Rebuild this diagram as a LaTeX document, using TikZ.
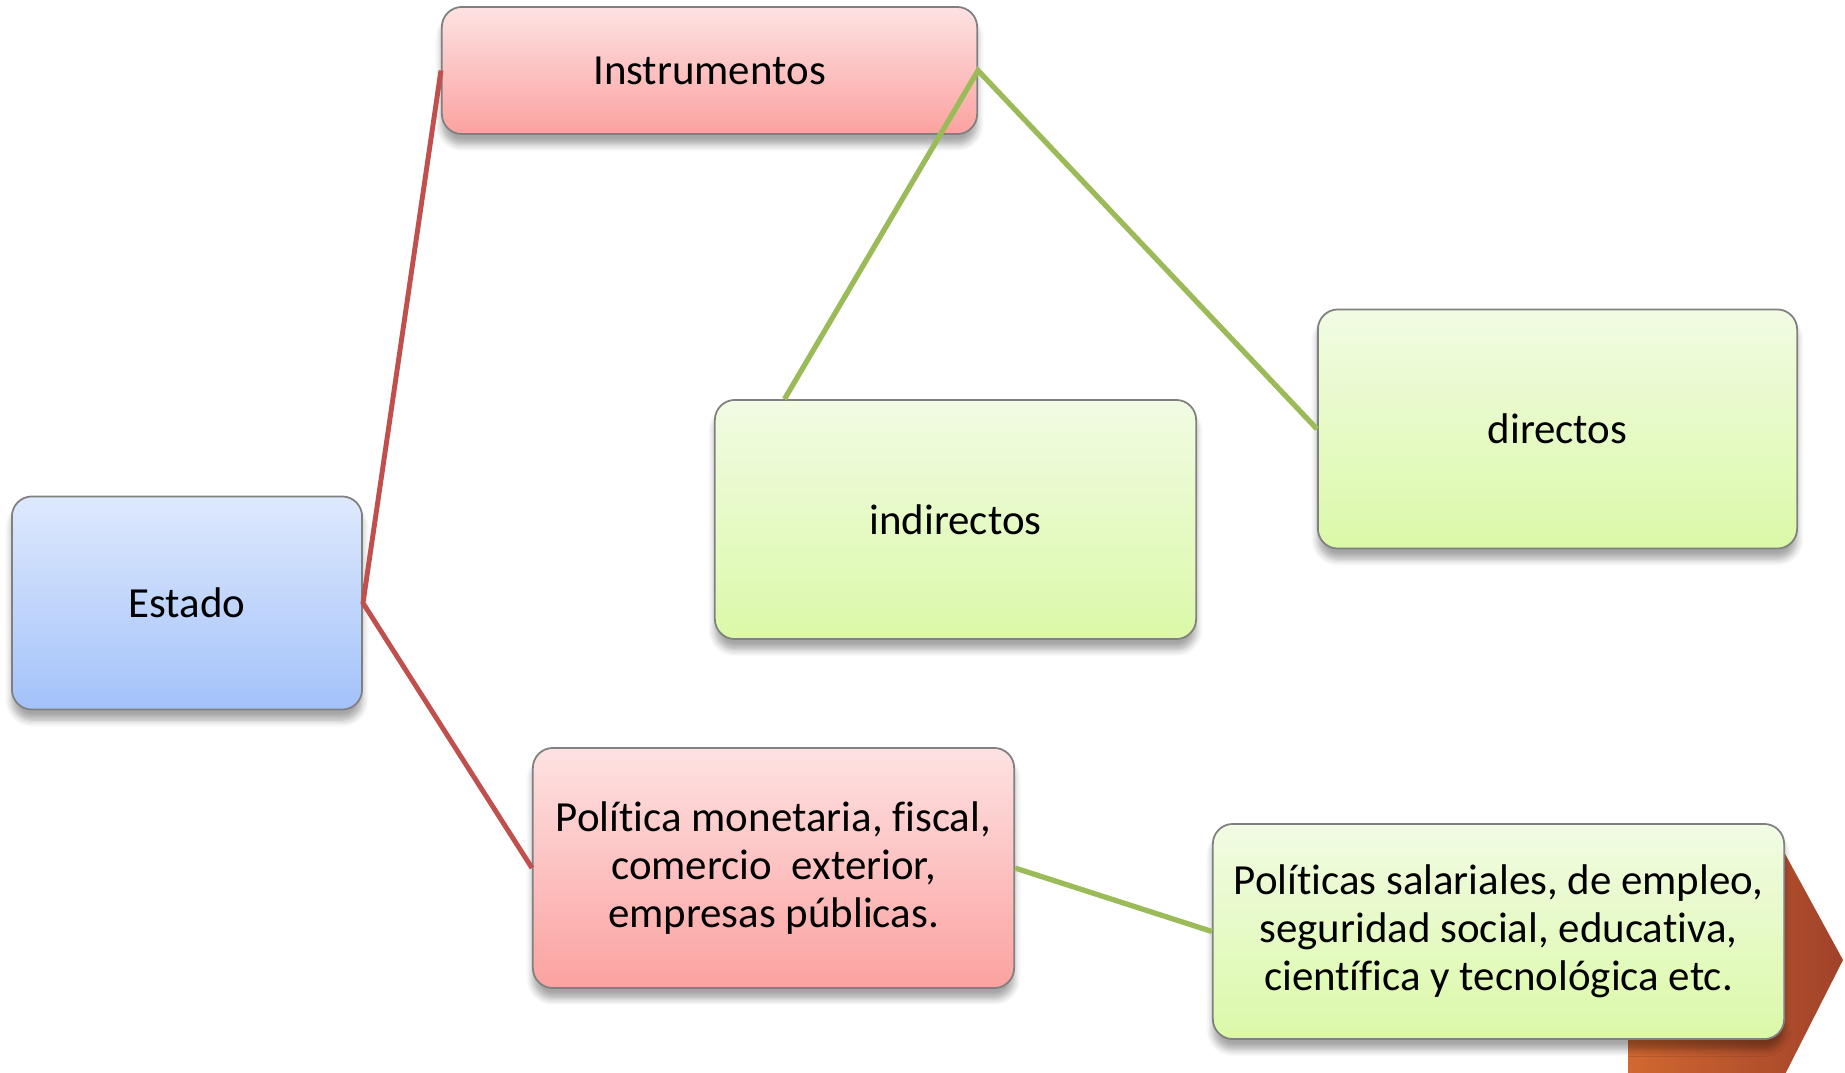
\documentclass[tikz,border=0pt]{standalone}
\usepackage{fontspec}
\setmainfont{Carlito}[Ligatures=NoCommon]
\usetikzlibrary{shadows.blur,calc}
\definecolor{estadotop}{RGB}{222,233,253}
\definecolor{estadobot}{RGB}{163,194,250}
\definecolor{redtop}{RGB}{253,226,226}
\definecolor{redbot}{RGB}{251,162,160}
\definecolor{greentop}{RGB}{241,251,227}
\definecolor{greenbot}{RGB}{219,249,168}
\definecolor{lineRed}{RGB}{192,80,77}
\definecolor{lineGreen}{RGB}{155,187,89}
\definecolor{chevLeft}{RGB}{210,104,48}
\definecolor{chevRight}{RGB}{160,66,42}

\begin{document}
\begin{tikzpicture}[
    x=0.01cm, y=-0.01cm,
    box/.style={rectangle, draw=black!50, line width=0.5pt, rounded corners=0.2cm,
                inner sep=0pt, align=center, text=black,
                font=\fontsize{12.2}{13.6}\selectfont,
                blur shadow={shadow xshift=0pt, shadow yshift=-3pt, shadow blur steps=6, shadow opacity=35}},
    estadobox/.style={box, top color=estadotop, bottom color=estadobot},
    redbox/.style={box, top color=redtop, bottom color=redbot},
    greenbox/.style={box, top color=greentop, bottom color=greenbot},
    redline/.style={draw=lineRed, line width=1.4pt},
    greenline/.style={draw=lineGreen, line width=1.5pt}
]
\useasboundingbox (0,0) rectangle (1845,1072);

% arrow behind the last box
\begin{scope}
  \clip (0,0) rectangle (1845,1072);
  \shade[left color=chevLeft, right color=chevRight]
    (1628,830) -- (1772,830) -- (1843,960) -- (1772,1100) -- (1628,1100) -- cycle;
\end{scope}

\node[estadobox, minimum width=3.50cm, minimum height=2.13cm] (estado) at (187,603) {Estado};
\node[redbox, minimum width=5.35cm, minimum height=1.27cm] (instrumentos) at (709.5,70.5) {Instrumentos};
\node[greenbox, minimum width=4.81cm, minimum height=2.39cm] (indirectos) at (955.5,519.5) {indirectos};
\node[greenbox, minimum width=4.79cm, minimum height=2.39cm] (directos) at (1557.5,429) {directos};
\node[redbox, minimum width=4.81cm, minimum height=2.40cm] (politica) at (773.5,868)
    {Política monetaria, fiscal,\\comercio\ \ exterior,\\empresas públicas.};
\node[greenbox, minimum width=5.71cm, minimum height=2.15cm] (salariales) at (1498.5,931.5)
    {Políticas salariales, de empleo,\\seguridad social, educativa,\\científica y tecnológica etc.};

\coordinate (indtop) at ($(indirectos.north west)!0.146!(indirectos.north east)$);

\draw[redline] (instrumentos.west) -- (estado.east) -- (politica.west);
\draw[greenline] (indtop) -- (instrumentos.east) -- (directos.west);
\draw[greenline] (politica.east) -- (salariales.west);

\end{tikzpicture}
\end{document}
